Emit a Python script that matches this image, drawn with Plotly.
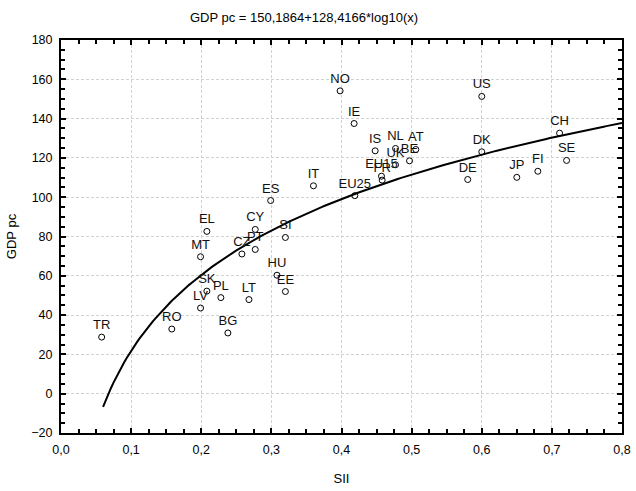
import numpy as np
import plotly.graph_objects as go

# regression from the chart title
INTERCEPT = 150.1864
SLOPE = 128.4166
CURVE_X_START = 0.06
CURVE_X_END = 0.8

countries = ["TR", "RO", "BG", "LV", "SK", "PL", "LT", "MT", "EL", "CZ", "PT", "CY",
             "HU", "EE", "SI", "ES", "IT", "EU25", "IE", "NO", "IS", "EU15", "FR",
             "UK", "NL", "BE", "AT", "DE", "DK", "US", "JP", "FI", "CH", "SE"]
sii = [0.058, 0.158, 0.238, 0.199, 0.208, 0.228, 0.268, 0.199, 0.208, 0.258, 0.277, 0.277,
       0.308, 0.320, 0.320, 0.299, 0.360, 0.419, 0.418, 0.398, 0.448, 0.457, 0.458,
       0.477, 0.477, 0.497, 0.506, 0.580, 0.600, 0.600, 0.650, 0.680, 0.711, 0.721]
gdp_pc = [28.8, 32.9, 30.9, 43.6, 52.2, 48.9, 47.9, 69.7, 82.6, 71.1, 73.4, 83.6,
          60.3, 52.0, 79.5, 98.3, 105.8, 100.8, 137.5, 154.1, 123.6, 110.7, 108.7,
          116.5, 124.8, 118.5, 124.3, 109.0, 123.1, 151.3, 110.1, 113.2, 132.6, 118.7]

x_ticks = [0.0, 0.1, 0.2, 0.3, 0.4, 0.5, 0.6, 0.7, 0.8]
x_tick_text = ["0,0", "0,1", "0,2", "0,3", "0,4", "0,5", "0,6", "0,7", "0,8"]
y_ticks = [-20, 0, 20, 40, 60, 80, 100, 120, 140, 160, 180]

FONT = "Liberation Sans Narrow, Arial Narrow, Liberation Sans, Arial"

curve_x = np.linspace(CURVE_X_START, CURVE_X_END, 200)
curve_y = INTERCEPT + SLOPE * np.log10(curve_x)

fig = go.Figure()
fig.add_trace(go.Scatter(
    x=curve_x, y=curve_y, mode="lines",
    line=dict(color="black", width=2),
    hoverinfo="skip", showlegend=False
))
fig.add_trace(go.Scatter(
    x=sii, y=gdp_pc, mode="markers+text",
    text=countries, textposition="top center",
    textfont=dict(family=FONT, size=13, color="#111111"),
    marker=dict(symbol="circle-open", size=6, color="black", line=dict(width=1)),
    showlegend=False, cliponaxis=False
))

axis_common = dict(
    showline=True, linecolor="black", linewidth=2, mirror="allticks",
    ticks="inside", ticklen=5, tickwidth=1.5, tickcolor="black",
    showgrid=True, gridcolor="#d2d2d2", griddash="3px,2px", gridwidth=1,
    zeroline=False, automargin=False, ticklabeloverflow="allow",
    tickfont=dict(family=FONT, size=12.5, color="black"),
)

fig.update_xaxes(
    range=[0, 0.8], tickvals=x_ticks, ticktext=x_tick_text, ticklabelstandoff=4,
    minor=dict(ticks="inside", dtick=0.025, ticklen=4, tickcolor="black", showgrid=False),
    title=dict(text="SII", font=dict(family=FONT, size=13, color="black"), standoff=18),
    **axis_common
)
fig.update_yaxes(
    range=[-20, 180], tickvals=y_ticks, ticklabelstandoff=4,
    minor=dict(ticks="inside", dtick=5, ticklen=4, tickcolor="black", showgrid=False),
    title=dict(text="GDP pc", font=dict(family=FONT, size=13, color="black"), standoff=12),
    **axis_common
)

fig.update_layout(
    width=636, height=491,
    margin=dict(l=61, r=14, t=40, b=58),
    paper_bgcolor="white", plot_bgcolor="white",
    title=dict(text="GDP pc = 150,1864+128,4166*log10(x)", x=0.478, xanchor="center",
               y=0.965, yanchor="middle",
               font=dict(family=FONT, size=13, color="black")),
)

# drop the default page margin so the whole 636x491 figure fits the window
fig.write_html("out.html", config={"displayModeBar": False},
               post_script="document.body.style.margin='0';")
